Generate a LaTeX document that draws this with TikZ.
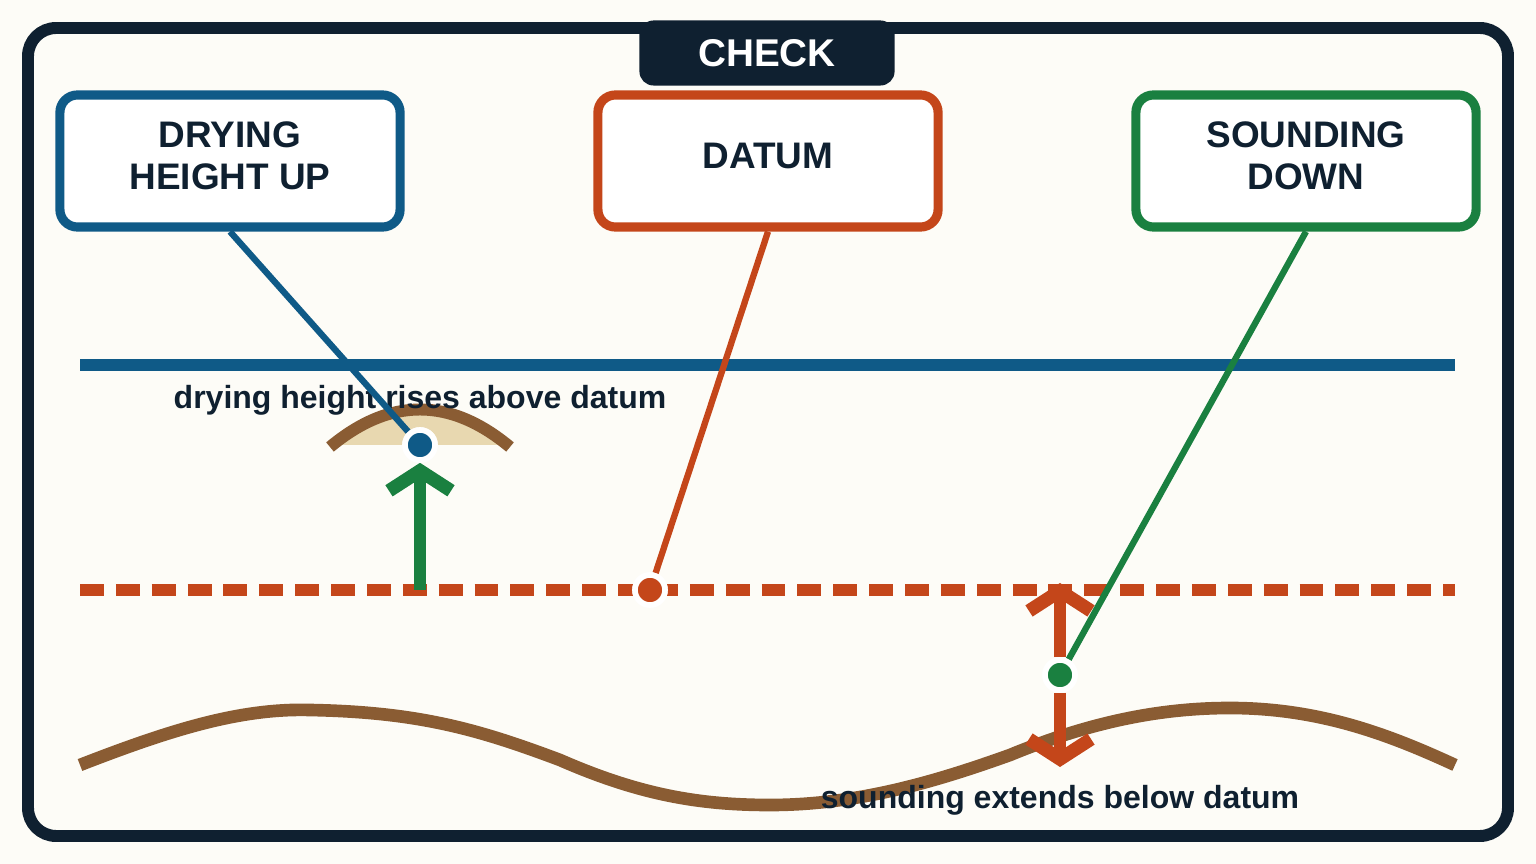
\documentclass[tikz,border=0pt]{standalone}
\usepackage{fontspec}
\setmainfont{Liberation Sans}
\usetikzlibrary{arrows.meta}
\definecolor{navy}{HTML}{0F2030}
\definecolor{cream}{HTML}{FDFCF7}
\definecolor{tideblue}{HTML}{0F5A87}
\definecolor{datumred}{HTML}{C4461A}
\definecolor{soundgreen}{HTML}{1A8040}
\definecolor{seabed}{HTML}{8A5C33}
\definecolor{sand}{HTML}{E8D8B0}
\tikzset{
  callout/.style={draw, line width=2.6pt, rounded corners=5pt, fill=white,
    minimum width=3.4cm, minimum height=1.32cm, align=center,
    font=\fontsize{10.5}{12}\selectfont\bfseries, text=navy},
  leader/.style={line width=1.8pt},
  dot/.style={circle, draw=white, line width=1.6pt, minimum size=0.3cm, inner sep=0},
  note/.style={font=\fontsize{9.1}{10}\selectfont\bfseries, text=navy},
  tip/.style={-{Straight Barb[length=0.2cm, width=0.62cm, line width=3.8pt]}}
}
\begin{document}
\begin{tikzpicture}[x=0.01cm, y=-0.01cm]
  \useasboundingbox (0,0) rectangle (1536,864);
  \fill[cream] (0,0) rectangle (1536,864);
  \draw[navy, line width=3.4pt, rounded corners=8pt] (28,28) rectangle (1508,836);
  \node[fill=navy, rounded corners=4pt, minimum width=2.55cm, minimum height=0.65cm,
    text=white, font=\fontsize{11}{13}\selectfont\bfseries] (check) at (767,53) {CHECK};
  % callouts
  \node[callout, draw=tideblue, text depth=0.1cm] (dry) at (230,161) {DRYING\\HEIGHT UP};
  \node[callout, draw=datumred, text depth=0.1cm] (datum) at (768,161) {DATUM};
  \node[callout, draw=soundgreen, text depth=0.1cm] (sound) at (1306,161) {SOUNDING\\DOWN};
  % water level and datum
  \draw[tideblue, line width=3.4pt] (80,365) -- (1455,365);
  \draw[datumred, line width=3.4pt, dash pattern=on 6.8pt off 3.4pt] (80,590) -- (1455,590);
  % drying bank
  \fill[sand] (330,445) .. controls (390,400) and (450,400) .. (510,445) -- cycle;
  \draw[seabed, line width=3.4pt] (330,447) .. controls (390,397) and (450,397) .. (510,447);
  % seabed
  \draw[seabed, line width=3.6pt] (80,765) .. controls (170,730) and (240,708) .. (310,710)
    .. controls (420,712) and (480,730) .. (560,760)
    .. controls (640,795) and (700,805) .. (770,805)
    .. controls (860,805) and (940,780) .. (1010,755)
    .. controls (1090,722) and (1160,708) .. (1230,708)
    .. controls (1320,708) and (1390,735) .. (1455,765);
  \node[note] (drynote) at (420,400) {drying height rises above datum};
  \node[note] (soundnote) at (1060,800) {sounding extends below datum};
  % measurements
  \coordinate (dryfoot) at (420,590);
  \node[dot, fill=tideblue] (drypt) at (420,445) {};
  \node[dot, fill=datumred] (datumpt) at (650,590) {};
  \node[dot, fill=soundgreen] (soundpt) at (1060,675) {};
  \draw[soundgreen, line width=3.4pt, tip] (dryfoot) -- (drypt.south);
  \draw[datumred, line width=3.4pt, tip] (soundpt.north) -- (1060,583);
  \draw[datumred, line width=3.4pt, tip] (soundpt.south) -- (1060,767);
  % leaders
  \draw[leader, tideblue] (dry.south) -- (drypt);
  \draw[leader, datumred] (datum.south) -- (datumpt);
  \draw[leader, soundgreen] (sound.south) -- (soundpt);
  \node[dot, fill=tideblue] at (drypt) {};
  \node[dot, fill=datumred] at (datumpt) {};
  \node[dot, fill=soundgreen] at (soundpt) {};
\end{tikzpicture}
\end{document}
